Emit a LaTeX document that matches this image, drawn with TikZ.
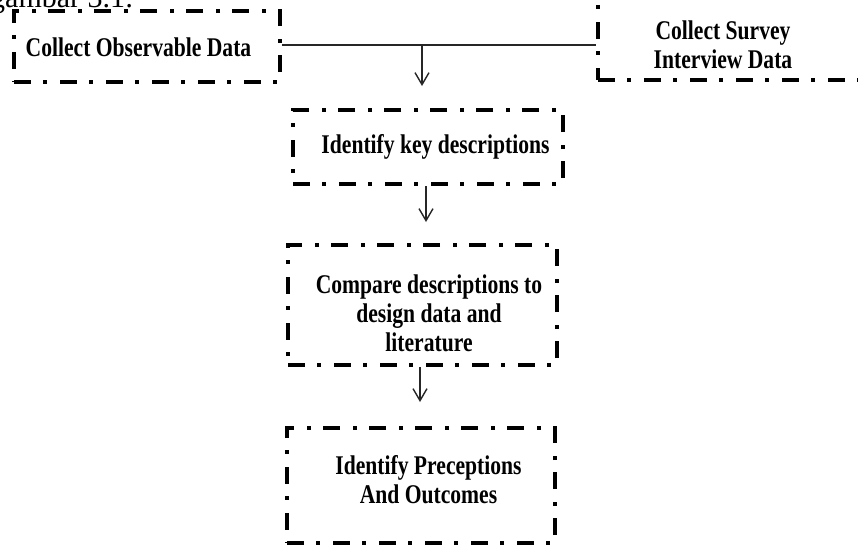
\documentclass[tikz,border=0pt]{standalone}
\usepackage{fontspec}
\setmainfont{Liberation Serif}
\newfontfamily\boxfont{Liberation Serif}[FakeStretch=0.8]
\usetikzlibrary{arrows.meta}
\tikzset{
  stepbox/.style={draw=black, line width=4.5pt, line cap=butt,
    dash pattern=on 17pt off 12pt on 4pt off 13pt, inner sep=0pt},
  steptext/.style={inner sep=0pt, align=center,
    font=\boxfont\bfseries\fontsize{27}{29}\selectfont},
  link/.style={draw=black!85, line width=1.4pt},
  flow/.style={link, -{Straight Barb[length=12pt,width=14pt,line width=1.4pt]}}
}
\begin{document}
\begin{tikzpicture}[x=1pt,y=-1pt]
  \useasboundingbox (0,0) rectangle (858,546);
  \clip (0,0) rectangle (858,546);
  \fill[white] (0,0) rectangle (858,546);

  % caption line, cut off at the top edge
  \node[anchor=base west, inner sep=0pt, font=\fontsize{30}{32}\selectfont]
    (cap) at (-10,7) {gambar 3.1:};

  % process boxes
  \node[stepbox, minimum width=266pt, minimum height=71pt] (obs) at (147,46.5) {};
  \node[stepbox, minimum width=268pt, minimum height=83pt] (svy) at (732,38.5) {};
  \node[stepbox, minimum width=270pt, minimum height=74pt] (key) at (428,147) {};
  \node[stepbox, minimum width=269pt, minimum height=120pt] (cmp) at (422.5,305) {};
  \node[stepbox, minimum width=268pt, minimum height=115pt] (out) at (421,485.5) {};

  % box texts
  \node[steptext] (obs-t) at (138.5,47) {Collect Observable Data};
  \node[steptext] (svy-t) at (723,45) {Collect Survey\\Interview Data};
  \node[steptext] (key-t) at (435.5,147) {Identify key descriptions};
  \node[steptext] (cmp-t) at (429,313) {Compare descriptions to\\design data and\\literature};
  \node[steptext] (out-t) at (428.5,480) {Identify Preceptions\\And Outcomes};

  % connectors
  \coordinate (join) at (422,45);
  \coordinate (tip1) at (422,86);
  \coordinate (tip2) at (426,222);
  \coordinate (tip3) at (420,402);
  \draw[link] (obs.east |- join) -- (svy.west |- join);
  \draw[flow] (join) -- (tip1);
  \draw[flow] (key.south -| tip2) -- (tip2);
  \draw[flow] (cmp.south -| tip3) -- (tip3);
\end{tikzpicture}
\end{document}
